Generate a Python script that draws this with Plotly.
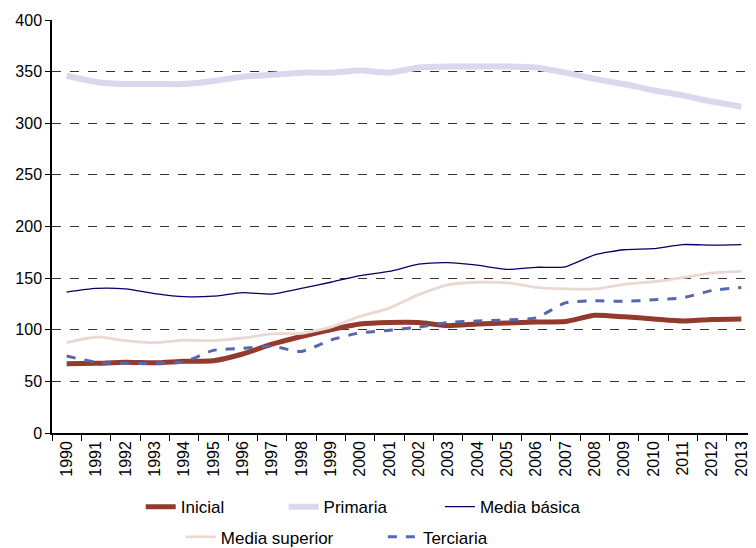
import plotly.graph_objects as go

years = [str(y) for y in range(1990, 2014)]

inicial = [67, 67.5, 68.5, 68, 69.5, 70, 76.5, 86, 93.5, 100, 105.5, 107, 107, 104, 105.5, 106.5, 107.5, 108, 114, 112.5, 110.5, 108.5, 110, 110.5]
primaria = [346, 340, 338, 338, 338, 341, 345, 347, 349, 349, 351, 349, 354, 355, 355, 355, 354, 349, 343, 338, 332, 327, 321, 316]
media_basica = [136.5, 140, 139.5, 135, 132, 132.5, 136, 134.5, 140, 146, 152.5, 156.5, 163.5, 165, 162.5, 158.5, 160.5, 161, 172.5, 177.5, 178.5, 182.5, 182, 182.5]
media_superior = [87.5, 93, 89.5, 87.5, 90, 89.5, 92, 96, 96.5, 102.5, 113, 121, 134, 143.5, 146, 145.5, 141, 139.5, 139.5, 144, 146.5, 150.5, 155, 156.5]
terciaria = [74.5, 68.5, 67.5, 67.5, 69, 80, 82, 84, 79, 90, 97, 99.5, 102.5, 107, 108.5, 109.5, 111.5, 126, 128, 127.5, 129, 131, 138, 141]

font = "Liberation Sans, Arial, sans-serif"

fig = go.Figure()

# each legend entry gets its own legend box so it can be placed like the original
series = [
    ("Inicial", inicial, "#933a2d", 5, "solid", "legend", 0.126, -0.136),
    ("Primaria", primaria, "#d9d9ee", 6, "solid", "legend2", 0.329, -0.136),
    ("Media básica", media_basica, "#000066", 1.3, "solid", "legend3", 0.551, -0.136),
    ("Media superior", media_superior, "#ead9d2", 2.8, "solid", "legend4", 0.183, -0.209),
    ("Terciaria", terciaria, "#5766b0", 3, "dash", "legend5", 0.470, -0.209),
]
legends = {}
for name, vals, col, w, dash, leg, lx, ly in series:
    fig.add_trace(go.Scatter(
        x=years, y=vals, name=name, mode="lines",
        line=dict(color=col, width=w, dash=dash, shape="spline", smoothing=0.6),
        legend=leg, showlegend=True,
    ))
    legends[leg] = dict(orientation="h", x=lx, y=ly, xanchor="left", yanchor="top",
                        font=dict(size=17), bgcolor="rgba(0,0,0,0)")

# page body has an 8px margin, so the figure is 8px smaller than the window
fig.update_layout(
    width=748, height=540,
    margin=dict(l=44, r=0, t=12, b=115, autoexpand=False),
    showlegend=True,
    plot_bgcolor="white", paper_bgcolor="white",
    font=dict(family=font, size=16, color="black"),
    **legends,
)

fig.update_xaxes(
    type="category", tickson="boundaries", tickangle=-90,
    range=[-0.5, 23.5], showgrid=False, tickfont=dict(size=16),
    showline=True, linecolor="black", linewidth=1.5,
    ticks="outside", ticklen=6, tickcolor="black",
)
fig.update_yaxes(
    range=[0, 400], dtick=50, tickformat="d", tickfont=dict(size=16),
    showgrid=True, gridcolor="#333333", griddash="dash", gridwidth=1,
    showline=True, linecolor="black", linewidth=1.5,
    ticks="outside", ticklen=5, tickcolor="black",
    zeroline=False,
)

fig.write_html("out.html")
